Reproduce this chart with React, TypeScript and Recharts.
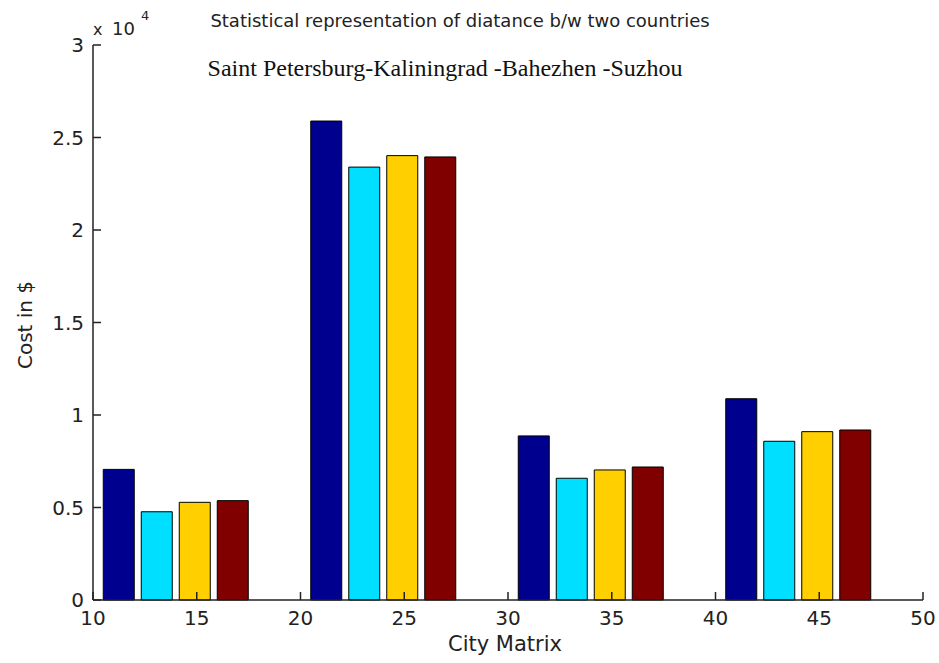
import React from "react";
import { BarChart, Bar, XAxis, YAxis } from "recharts";

const cityMatrix = [14, 24, 34, 44];
const series1 = [7060, 25890, 8870, 10880];
const series2 = [4770, 23400, 6580, 8580];
const series3 = [5280, 24020, 7030, 9100];
const series4 = [5370, 23950, 7190, 9190];
const xTicks = [10, 15, 20, 25, 30, 35, 40, 45, 50];
const yTicks = [0, 5000, 10000, 15000, 20000, 25000, 30000];
const seriesKeys = ["s1", "s2", "s3", "s4"];
const seriesColors = ["#00008F", "#00DFFF", "#FFCF00", "#800000"];

const data = cityMatrix.map((x, i) => ({
  x,
  s1: series1[i],
  s2: series2[i],
  s3: series3[i],
  s4: series4[i],
}));

const FONT = "'DejaVu Sans', sans-serif";
const AXIS = "#222";

export default function App() {
  return (
    <div style={{ position: "absolute", left: 0, top: 0, width: 939, height: 663, background: "#fff" }}>
      <BarChart
        width={939}
        height={663}
        data={data}
        margin={{ top: 45, right: 16, bottom: 0, left: 0 }}
        barSize={31}
        barGap={7}
      >
        <XAxis
          dataKey="x"
          type="number"
          domain={[10, 50]}
          ticks={xTicks}
          height={63}
          tickSize={-8}
          tickMargin={19}
          tickLine={{ stroke: AXIS, strokeWidth: 1.5 }}
          axisLine={{ stroke: AXIS, strokeWidth: 1.5 }}
          tick={{ fontFamily: FONT, fontSize: 20, fill: "#222" }}
          interval={0}
          allowDataOverflow
        />
        <YAxis
          type="number"
          domain={[0, 30000]}
          ticks={yTicks}
          width={93}
          tickSize={-8}
          tickMargin={17}
          tickLine={{ stroke: AXIS, strokeWidth: 1.5 }}
          axisLine={{ stroke: AXIS, strokeWidth: 1.5 }}
          tick={{ fontFamily: FONT, fontSize: 20, fill: "#222" }}
          tickFormatter={(v: number) => String(v / 10000)}
          interval={0}
        />
        {seriesKeys.map((k, i) => (
          <Bar
            key={k}
            dataKey={k}
            fill={seriesColors[i]}
            stroke="#000"
            strokeWidth={1}
            isAnimationActive={false}
          />
        ))}
      </BarChart>
      <svg
        width={939}
        height={663}
        style={{ position: "absolute", left: 0, top: 0, pointerEvents: "none" }}
      >
        <text x={460} y={27} textAnchor="middle" fontFamily={FONT} fontSize={18} fill="#222">
          Statistical representation of diatance b/w two countries
        </text>
        <text x={445} y={76} textAnchor="middle" fontFamily="'Liberation Serif', 'Times New Roman', serif" fontSize={24} fill="#111">
          Saint Petersburg-Kaliningrad -Bahezhen -Suzhou
        </text>
        <text x={93} y={35} fontFamily={FONT} fontSize={16} fill="#222">
          x
        </text>
        <text x={112} y={35} fontFamily={FONT} fontSize={18} fill="#222">
          10
        </text>
        <text x={141} y={20} fontFamily={FONT} fontSize={13} fill="#222">
          4
        </text>
        <text x={505} y={651} textAnchor="middle" fontFamily={FONT} fontSize={21} fill="#222">
          City Matrix
        </text>
        <text
          x={32}
          y={325}
          textAnchor="middle"
          fontFamily={FONT}
          fontSize={20}
          fill="#222"
          transform="rotate(-90 32 325)"
        >
          Cost in $
        </text>
      </svg>
    </div>
  );
}
